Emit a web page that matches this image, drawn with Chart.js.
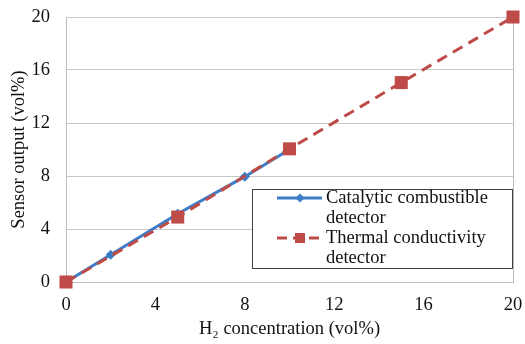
<!DOCTYPE html>
<html><head><meta charset="utf-8">
<script src="https://cdn.jsdelivr.net/npm/chart.js@4"></script>
<style>html,body{margin:0;padding:0;background:#fff;}</style>
</head><body>
<canvas id="c" width="525" height="344"></canvas>
<script>
const xTitle = 'H₂ concentration (vol%)';
const yTitle = 'Sensor output (vol%)';
const xTickValues = [0, 4, 8, 12, 16, 20];
const yTickValues = [0, 4, 8, 12, 16, 20];
const catalyticX = [0, 2, 5, 8, 10];
const catalyticY = [0, 2.05, 5.15, 7.95, 10];
const thermalX = [0, 5, 10, 15, 20];
const thermalY = [0, 4.9, 10.05, 15.05, 20];
const catalyticLabel = ['Catalytic combustible', 'detector'];
const thermalLabel = ['Thermal conductivity', 'detector'];

const FONT = "'Liberation Serif', 'Times New Roman', serif";
const BLUE = '#3d7cc6';
const RED = '#be4b48';

function pts(xs, ys) { return xs.map((x, i) => ({x: x, y: ys[i]})); }

const legendPlugin = {
  id: 'boxLegend',
  afterDatasetsDraw(chart) {
    const {ctx, chartArea: a} = chart;
    const x0 = a.left + 186, y0 = a.top + 172, w = 260, h = 79;
    ctx.save();
    ctx.fillStyle = '#fff';
    ctx.fillRect(x0, y0, w, h);
    ctx.strokeStyle = '#404040';
    ctx.lineWidth = 1;
    ctx.strokeRect(Math.round(x0) + 0.5, Math.round(y0) + 0.5, w, h);
    const items = [chart.data.datasets[0], chart.data.datasets[1]];
    items.forEach((ds, i) => {
      const y = y0 + 9 + i * 40;
      ctx.strokeStyle = ds.borderColor;
      ctx.lineWidth = 3;
      ctx.setLineDash(ds.borderDash ? [10, 6] : []);
      ctx.beginPath();
      ctx.moveTo(x0 + 25, y);
      ctx.lineTo(x0 + 70, y);
      ctx.stroke();
      ctx.setLineDash([]);
      ctx.fillStyle = ds.pointBackgroundColor;
      const cx = x0 + 48;
      if (ds.pointStyle === 'rectRot') {
        ctx.beginPath();
        ctx.moveTo(cx, y - 4.5); ctx.lineTo(cx + 4.5, y); ctx.lineTo(cx, y + 4.5); ctx.lineTo(cx - 4.5, y);
        ctx.closePath(); ctx.fill();
      } else {
        ctx.fillRect(cx - 5, y - 5, 10, 10);
      }
      ctx.fillStyle = '#111';
      ctx.font = '18.5px ' + FONT;
      ctx.textBaseline = 'middle';
      ctx.textAlign = 'left';
      ds.legendLines.forEach((t, k) => ctx.fillText(t, x0 + 74, y + k * 20));
    });
    ctx.restore();
  }
};

const framePlugin = {
  id: 'frame',
  beforeDatasetsDraw(chart) {
    const {ctx, chartArea: a} = chart;
    ctx.save();
    ctx.strokeStyle = '#bdbdbd';
    ctx.lineWidth = 1;
    const r = Math.round(a.right) + 0.5;
    ctx.beginPath();
    ctx.moveTo(r, a.top);
    ctx.lineTo(r, a.bottom);
    ctx.stroke();
    ctx.restore();
  }
};

function zeroPad(s) { s.paddingTop = 0; s.paddingBottom = 0; s.paddingLeft = 0; s.paddingRight = 0; }

new Chart(document.getElementById('c'), {
  type: 'scatter',
  data: {
    datasets: [
      {
        label: catalyticLabel.join(' '),
        legendLines: catalyticLabel,
        data: pts(catalyticX, catalyticY),
        showLine: true,
        borderColor: BLUE,
        borderWidth: 3,
        pointStyle: 'rectRot',
        pointRadius: 5,
        pointBackgroundColor: BLUE,
        pointBorderColor: BLUE,
        pointBorderWidth: 0,
        tension: 0,
        clip: false,
        order: 1
      },
      {
        label: thermalLabel.join(' '),
        legendLines: thermalLabel,
        data: pts(thermalX, thermalY),
        showLine: true,
        borderColor: RED,
        borderWidth: 3,
        borderDash: [11, 7],
        pointStyle: 'rect',
        pointRadius: 9.2,
        pointBackgroundColor: RED,
        pointBorderColor: RED,
        pointBorderWidth: 0,
        tension: 0,
        clip: false,
        order: 0
      }
    ]
  },
  options: {
    responsive: false,
    animation: false,
    devicePixelRatio: 1,
    layout: { padding: { top: 17, right: 12, left: 0, bottom: 0 } },
    plugins: { legend: { display: false }, tooltip: { enabled: false } },
    scales: {
      x: {
        type: 'linear',
        min: xTickValues[0],
        max: xTickValues[xTickValues.length - 1],
        afterBuildTicks: s => { s.ticks = xTickValues.map(v => ({value: v})); },
        afterFit: s => { s.height = 62; zeroPad(s); },
        grid: { display: false, drawTicks: false },
        border: { display: true, color: '#bdbdbd', width: 1 },
        ticks: { padding: 12, color: '#111', font: { family: FONT, size: 18.5 }, maxRotation: 0 },
        title: { display: true, text: xTitle, color: '#111', font: { family: FONT, size: 18.5 }, padding: { top: 0, bottom: 4 } }
      },
      y: {
        type: 'linear',
        min: yTickValues[0],
        max: yTickValues[yTickValues.length - 1],
        afterBuildTicks: s => { s.ticks = yTickValues.map(v => ({value: v})); },
        afterFit: s => { s.width = 66; zeroPad(s); },
        grid: { color: '#c8c8c8', lineWidth: 1, drawTicks: false },
        border: { display: true, color: '#bdbdbd', width: 1 },
        ticks: { padding: 16, color: '#111', font: { family: FONT, size: 18.5 } },
        title: { display: true, text: yTitle, color: '#111', font: { family: FONT, size: 18.5 }, padding: { top: 8, bottom: 0 } }
      }
    }
  },
  plugins: [framePlugin, legendPlugin]
});
</script>
</body></html>
